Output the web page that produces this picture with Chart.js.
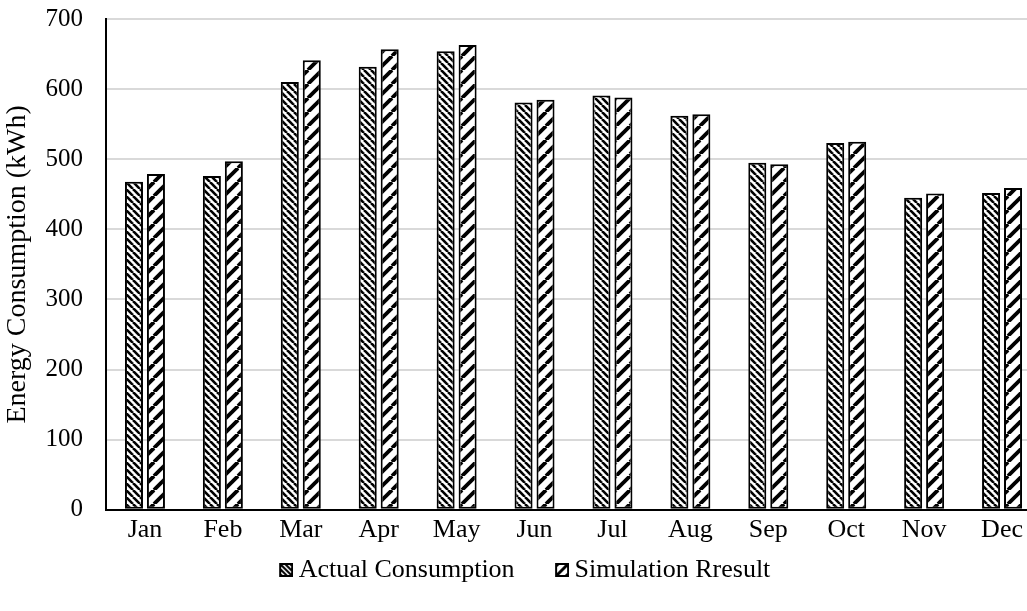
<!DOCTYPE html>
<html>
<head>
<meta charset="utf-8">
<script src="https://cdn.jsdelivr.net/npm/chart.js@4.4.0/dist/chart.umd.min.js"></script>
<style>
html,body{margin:0;padding:0;background:#fff;overflow:hidden;}
#wrap{width:1045px;height:611px;position:relative;}
</style>
</head>
<body>
<div id="wrap"><canvas id="c"></canvas></div>
<script>
const categories = ["Jan","Feb","Mar","Apr","May","Jun","Jul","Aug","Sep","Oct","Nov","Dec"];
const actualConsumption = [468, 476, 610, 632, 654, 581, 591, 562, 495, 523, 445, 452];
const simulationResult  = [479, 497, 641, 657, 663, 585, 588, 564, 493, 525, 451, 459];
const yTicks = [0,100,200,300,400,500,600,700];

function drawStripes(g, w, h, period, lw, dir){
  g.save();
  g.strokeStyle = '#000'; g.lineWidth = lw;
  const L = Math.max(w,h)*2;
  for (let k=-Math.ceil(L/period)-1;k<=Math.ceil(L/period)+1;k++){
    g.beginPath();
    if (dir==='down'){ g.moveTo(k*period,0); g.lineTo(k*period+L,L); }
    else { g.moveTo(k*period,h); g.lineTo(k*period+h,0); }
    g.stroke();
  }
  g.restore();
}
function makePattern(period, lw, dir){
  const c = document.createElement('canvas');
  c.width = period; c.height = period;
  const g = c.getContext('2d');
  g.fillStyle = '#fff'; g.fillRect(0,0,period,period);
  g.strokeStyle = '#000'; g.lineWidth = lw;
  for (let k=-1;k<=1;k++){
    g.beginPath();
    if (dir==='down'){ g.moveTo(k*period,0); g.lineTo(k*period+period,period); }
    else { g.moveTo(k*period,period); g.lineTo(k*period+period,0); }
    g.stroke();
  }
  return g.createPattern(c,'repeat');
}
const patA = makePattern(7, 2.6, 'down');
const patS = makePattern(14, 3.8, 'up');

// legend swatch image: visible square sits at the right end so it lies close to the text
const SW = 14, SHIFT = 21;
function makeSwatch(period, lw, dir){
  const c = document.createElement('canvas');
  c.width = SW + 2*SHIFT; c.height = SW;
  const g = c.getContext('2d');
  g.save();
  g.translate(2*SHIFT, 0);
  g.beginPath(); g.rect(0,0,SW,SW); g.clip();
  g.fillStyle = '#fff'; g.fillRect(0,0,SW,SW);
  drawStripes(g, SW, SW, period, lw, dir);
  g.restore();
  g.strokeStyle = '#000'; g.lineWidth = 2;
  g.strokeRect(2*SHIFT+1, 1, SW-2, SW-2);
  return c;
}
const swatches = [makeSwatch(5, 2.0, 'down'), makeSwatch(10, 3.0, 'up')];

const font = "'Liberation Serif','Times New Roman',serif";
Chart.defaults.font.family = font;
Chart.defaults.color = '#000';

const legendShift = {
  id:'legendShift',
  afterLayout(chart){ const l = chart.legend; if (l){ l.left -= 13; l.right -= 13; } }
};

new Chart(document.getElementById('c'), {
  type: 'bar',
  data: {
    labels: categories,
    datasets: [
      {label:'Actual Consumption', data: actualConsumption, backgroundColor: patA, borderColor:'#000', borderWidth:2, borderSkipped:false, barPercentage:0.82, categoryPercentage:0.564},
      {label:'Simulation Rresult', data: simulationResult, backgroundColor: patS, borderColor:'#000', borderWidth:2, borderSkipped:false, barPercentage:0.82, categoryPercentage:0.564}
    ]
  },
  plugins:[legendShift],
  options: {
    responsive:true, maintainAspectRatio:false, animation:false,
    layout:{padding:{top:0,right:4,left:0,bottom:18}},
    plugins:{
      legend:{position:'bottom',
        labels:{font:{size:26,family:font}, color:'#000', usePointStyle:true, boxHeight:14, pointStyleWidth:41, padding:6,
          generateLabels: (chart) => {
            const items = Chart.defaults.plugins.legend.labels.generateLabels(chart);
            items.forEach((it,i)=>{ it.pointStyle = swatches[i]; });
            return items;
          }}},
      tooltip:{enabled:false}
    },
    scales:{
      x:{
        grid:{display:false, drawTicks:false},
        border:{color:'#000', width:2},
        ticks:{font:{size:26,family:font}, color:'#000', padding:5}
      },
      y:{
        min:0, max:700,
        afterBuildTicks: s => { s.ticks = yTicks.map(v=>({value:v})); },
        afterFit: s => { s.width = 106; s.paddingTop = 19; s.paddingBottom = 0; },
        grid:{color:'#d9d9d9', lineWidth:2, drawTicks:false},
        border:{color:'#000', width:2},
        ticks:{font:{size:25,family:font}, color:'#000', padding:23},
        title:{display:true, text:'Energy Consumption (kWh)', font:{size:28,family:font, lineHeight:1.2}, color:'#000', padding:{top:1,bottom:0}}
      }
    }
  }
});
</script>
</body>
</html>
